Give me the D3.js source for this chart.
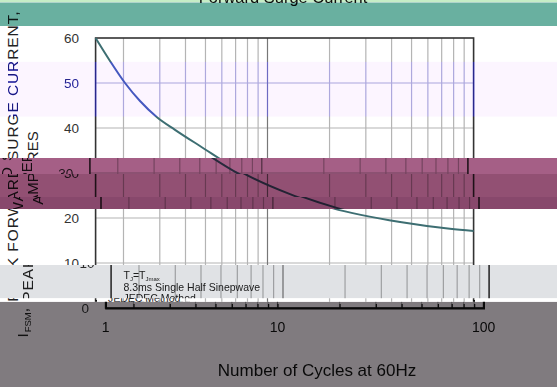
<!DOCTYPE html>
<html><head><meta charset="utf-8">
<script src="https://cdn.jsdelivr.net/npm/d3@7"></script>
<style>body{margin:0;background:#fff}svg{display:block}</style>
</head><body>
<script>
// ---- data ----
const cycles  = [1, 1.213, 1.483, 1.813, 2.276, 2.897, 4.048, 7.2, 12.86, 20.6, 44.0, 76.8, 100];
const current = [60, 54.9, 50, 46, 42.4, 39.6, 36, 30, 25.3, 22.2, 19.1, 17.6, 17.1];
const yTickValues = [0, 10, 20, 30, 40, 50, 60];
const xTickLabels = [1, 10, 100];
const xGridValues = [1.453, 2.363, 3.334, 4.357, 5.424, 6.523, 7.649, 8.818, 10, 20, 30, 40, 50, 60, 70, 80, 90];
const titleText = "Forward Surge Current";
const xTitle = "Number of Cycles at 60Hz";
const notes = ["8.3ms Single Half  Sinepwave", "JEDEC Method"];

const W = 557, H = 387;
const x = d3.scaleLog().domain([1, 10, 100]).range([95.6, 267.5, 473.6]);
const y = d3.scaleLinear().domain([0, 60]).range([308, 38]);
const FONT = "'Liberation Sans', Arial, sans-serif";

const svg = d3.select("body").append("svg").attr("width", W).attr("height", H)
  .style("font-family", FONT);
const defs = svg.append("defs");

function drawChart(g) {
  g.append("rect").attr("x", -40).attr("y", 0).attr("width", W + 80).attr("height", H).attr("fill", "#fff");
  g.append("text").attr("x", 283).attr("y", 2.5).attr("text-anchor", "middle")
    .attr("font-size", 16.5).attr("fill", "#111").text(titleText);
  // horizontal grid
  g.selectAll(".hg").data(yTickValues.filter(v => v > 0 && v < 60)).join("line")
    .attr("x1", x.range()[0]).attr("x2", x.range()[2])
    .attr("y1", d => y(d)).attr("y2", d => y(d))
    .attr("stroke", "#b4b4b4").attr("stroke-width", 1.2);
  // vertical grid
  g.selectAll(".vg").data(xGridValues).join("line")
    .attr("x1", d => x(d)).attr("x2", d => x(d))
    .attr("y1", y(60)).attr("y2", y(0))
    .attr("stroke", d => d === 10 ? "#777" : "#b4b4b4").attr("stroke-width", 1.2);
  // border
  g.append("rect").attr("x", x(1)).attr("y", y(60))
    .attr("width", x(100) - x(1)).attr("height", y(0) - y(60))
    .attr("fill", "none").attr("stroke", "#333").attr("stroke-width", 1.6);
  // curve
  g.append("path").datum(cycles.map((c, i) => [c, current[i]]))
    .attr("d", d3.line().x(d => x(d[0])).y(d => y(d[1])).curve(d3.curveMonotoneX))
    .attr("fill", "none").attr("stroke", "#3d6e72").attr("stroke-width", 2);
  // y tick labels
  g.selectAll(".yl").data(yTickValues).join("text")
    .attr("x", 79).attr("y", d => y(d)).attr("dy", "0.35em").attr("text-anchor", "end")
    .attr("font-size", 13.5).attr("fill", "#333").text(d => d);
  // x axis
  const ax = g.append("g").attr("transform", `translate(0,${y(0)})`)
    .call(d3.axisBottom(x).tickValues(xGridValues.concat([1, 100])).tickSize(-4).tickSizeOuter(-8).tickFormat(""));
  ax.select(".domain").attr("stroke", "#111").attr("stroke-width", 1.8);
  ax.selectAll(".tick line").attr("stroke", "#111").attr("stroke-width", 1.2);
  g.selectAll(".xl").data(xTickLabels).join("text")
    .attr("x", d => x(d)).attr("y", 332).attr("text-anchor", "middle")
    .attr("font-size", 14).attr("fill", "#111").text(d => d);
  g.append("text").attr("x", 307).attr("y", 376).attr("text-anchor", "middle")
    .attr("font-size", 17).attr("fill", "#111").text(xTitle);
  // y label
  const yl = g.append("text").attr("transform", "translate(17.5,174) rotate(-90)")
    .attr("text-anchor", "middle").attr("font-size", 15.5).attr("letter-spacing", 0.9).attr("fill", "#222");
  yl.append("tspan").text("I");
  yl.append("tspan").attr("font-size", 9.5).attr("dy", 3).attr("letter-spacing", 0).text("FSM");
  yl.append("tspan").attr("dy", -3).text(", PEAK FORWARD SURGE CURRENT,");
  g.append("text").attr("transform", "translate(37.5,168) rotate(-90)")
    .attr("text-anchor", "middle").attr("font-size", 15).attr("fill", "#222").text("AMPERES");
  // notes
  const t = g.append("text").attr("x", 108).attr("y", 279).attr("font-size", 10.5).attr("fill", "#222");
  t.append("tspan").text("T");
  t.append("tspan").attr("font-size", 6).attr("dy", 2).text("J");
  t.append("tspan").attr("dy", -2).text("=T");
  t.append("tspan").attr("font-size", 6).attr("dy", 2).text("Jmax");
  g.selectAll(".nt").data(notes).join("text")
    .attr("x", 108).attr("y", (d, i) => 290.5 + i * 11).attr("font-size", 10.5).attr("fill", "#222").text(d => d);
}

drawChart(svg.append("g"));

let bid = 0;
function band(y0, y1, dx, layers) {
  const id = "clip" + (bid++);
  defs.append("clipPath").attr("id", id).append("rect")
    .attr("x", 0).attr("y", y0).attr("width", W).attr("height", y1 - y0);
  const outer = svg.append("g").attr("clip-path", `url(#${id})`).style("isolation", "isolate");
  drawChart(outer.append("g").attr("transform", `translate(${dx},0)`));
  layers.forEach(l => {
    outer.append("rect").attr("x", 0).attr("y", y0).attr("width", W).attr("height", y1 - y0)
      .attr("fill", l.c).attr("fill-opacity", l.o ?? 1).style("mix-blend-mode", l.m || "multiply");
  });
}
band(0, 2.3, 0, [{c: "#c6edc6"}]);
band(2.3, 26, 0, [{c: "#69b0a0"}]);
band(61.7, 116.7, 0, [{c: "#4a4aff", m: "color", o: 0.55}, {c: "#fcf5ff"}]);
band(158, 174, -5.7, [{c: "#a55f86"}]);
band(174, 197, 0, [{c: "#925073"}]);
band(197, 209, 5.4, [{c: "#88486c"}]);
band(265, 298.3, 15.5, [{c: "#e0e2e5"}]);
band(301.7, H, 10, [{c: "#807b7f"}]);
</script>
</body></html>
